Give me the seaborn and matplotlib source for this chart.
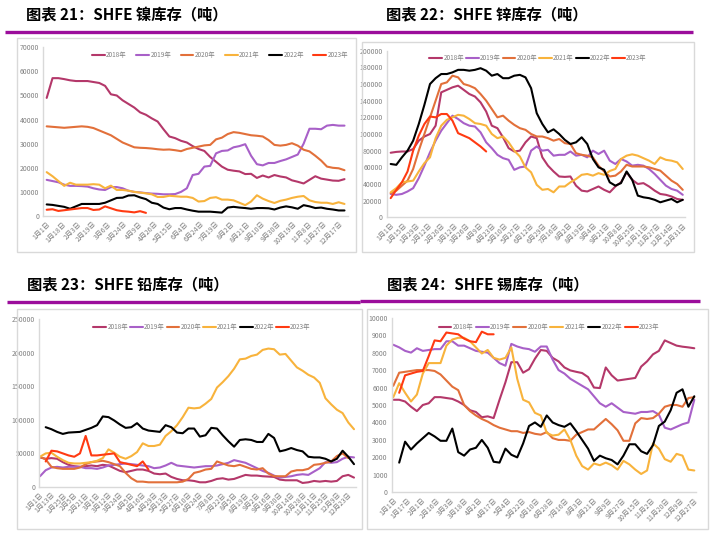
import numpy as np
import pandas as pd
import matplotlib.pyplot as plt
import seaborn as sns
from matplotlib.patches import Rectangle
from matplotlib.lines import Line2D

sns.set_style('white')
plt.rcParams['font.family'] = ['Noto Sans CJK SC', 'DejaVu Sans']

years = ['2018年', '2019年', '2020年', '2021年', '2022年', '2023年']
colors = ['#B4386A', '#A860C8', '#E2703A', '#F8B33C', '#000000', '#FF3A12']

# ---- 镍 (nickel), weekly
ni_labels = ['1月1日', '1月18日', '2月3日', '2月19日', '3月6日', '3月24日', '4月9日', '4月26日',
             '5月15日', '6月4日', '6月24日', '7月19日', '8月2日', '8月21日', '9月10日', '9月30日',
             '10月19日', '11月8日', '11月27日', '12月17日']
ni_2018 = [49000, 57200, 57200, 56800, 56300, 56000, 56000, 56000, 55600, 55200, 54000, 50500, 50000,
           48000, 46500, 45000, 43000, 42000, 40500, 39200, 36000, 33000, 32300, 31200, 30500, 29000,
           27800, 27000, 24500, 22500, 20500, 19200, 18800, 18500, 17400, 17500, 15800, 16800, 16000,
           17000, 16400, 16000, 14800, 14200, 13500, 15000, 16500, 15500, 15100, 14700, 14600, 15300]
ni_2019 = [15000, 14500, 14000, 13000, 12500, 12500, 12400, 12200, 11500, 11000, 10800, 12000, 12000,
           11500, 10500, 10000, 9800, 9500, 9300, 9200, 9000, 9000, 9100, 10000, 11500, 17000, 17500,
           20500, 20800, 26000, 27000, 27200, 28500, 29000, 29800, 25000, 21500, 21000, 22000, 22000,
           22800, 23500, 24500, 25500, 30000, 36200, 36200, 36000, 37500, 37800, 37500, 37500]
ni_2020 = [37200, 37000, 36800, 36600, 36800, 37000, 37200, 37000, 36500, 35500, 34500, 33500, 32000,
           30500, 29500, 28500, 28300, 28200, 28000, 27700, 27500, 27600, 27300, 26900, 27800, 28300,
           28800, 29300, 29500, 31800, 32500, 34000, 34800, 34500, 34000, 33500, 33300, 33000, 31500,
           29500, 29200, 29500, 30200, 29200, 27500, 26800, 25000, 23000, 20500, 20000, 19800, 19000]
ni_2021 = [18200, 16500, 14500, 12500, 13800, 13000, 13000, 13000, 13200, 13000, 11500, 12600, 10800,
           10800, 10500, 10000, 9700, 9400, 9000, 7900, 7900, 8400, 8200, 8000, 8000, 7500, 6000, 6200,
           7500, 7800, 6800, 6800, 6500, 5500, 4500, 6000, 8600, 7200, 6200, 5400, 6300, 6800, 7500,
           8000, 8300, 6500, 5800, 5500, 5500, 5000, 5700, 5000]
ni_2022 = [4800, 4600, 4200, 3800, 3000, 4000, 5000, 5000, 5000, 5000, 5500, 6500, 7500, 7600, 8500,
           8600, 7700, 7000, 5500, 5000, 3500, 2800, 3300, 3300, 2700, 2200, 1800, 1800, 1800, 1600,
           1400, 3500, 3800, 3500, 3300, 3000, 3300, 3300, 3200, 2700, 3500, 4000, 3600, 3000, 4500,
           4000, 3300, 3500, 3000, 2700, 2300, 2300]
ni_2023 = [2600, 2800, 2100, 2400, 2700, 3000, 3300, 3300, 2500, 2700, 4000, 3200, 2400, 2000, 1800,
           1500, 2000, 1300]

# ---- 锌 (zinc)
zn_labels = ['1月1日', '1月15日', '1月29日', '2月12日', '2月26日', '3月12日', '3月26日', '4月9日',
             '4月23日', '5月10日', '5月27日', '6月12日', '6月29日', '7月16日', '8月2日', '8月19日',
             '9月4日', '9月21日', '10月8日', '10月25日', '11月11日', '11月27日', '12月14日', '12月31日']
zn_2018 = [77500, 78500, 79000, 79000, 82000, 92000, 97000, 100000, 110000, 150000, 153000, 156000,
           158000, 153000, 148000, 145000, 138000, 127000, 110000, 107000, 96000, 83000, 79000, 80000,
           90000, 97000, 95000, 72000, 62000, 55000, 49000, 48500, 49000, 38000, 32000, 31000, 34000,
           37000, 33000, 30000, 37000, 42000, 54000, 45000, 40000, 41000, 37000, 32000, 28000, 27000,
           25000, 22000, 21000]
zn_2019 = [28000, 27000, 28000, 31000, 35000, 47000, 62000, 78000, 92000, 104000, 113000, 122000,
           118000, 113000, 110000, 109000, 102000, 90000, 83000, 75000, 71000, 69000, 57000, 60000,
           61000, 80000, 85000, 80000, 81000, 74000, 75000, 75000, 79000, 74000, 75000, 72000, 80000,
           76000, 80000, 68000, 64000, 70000, 67000, 62000, 63000, 62000, 58000, 52000, 45000, 38000,
           34000, 32000, 27000]
zn_2020 = [29000, 32000, 38000, 44000, 58000, 80000, 100000, 120000, 140000, 160000, 162000, 170000,
           168000, 160000, 158000, 155000, 148000, 140000, 130000, 120000, 122000, 116000, 111000,
           107000, 105000, 100000, 97000, 97000, 95000, 92000, 94000, 89000, 88000, 77000, 75000,
           74000, 72000, 62000, 55000, 49000, 50000, 55000, 63000, 61000, 61000, 61000, 60000, 58000,
           56000, 50000, 44000, 40000, 33000]
zn_2021 = [30000, 35000, 42000, 43000, 44000, 55000, 65000, 72000, 95000, 110000, 117000, 120000,
           123000, 122000, 118000, 113000, 112000, 110000, 100000, 95000, 97000, 90000, 80000, 73000,
           60000, 54000, 39000, 33000, 34000, 30000, 37000, 37000, 42000, 46000, 51000, 52000, 50000,
           53000, 51000, 55600, 58000, 70000, 74000, 75600, 74000, 71000, 68000, 64000, 72000, 69000,
           68000, 66000, 58000]
zn_2022 = [64000, 63000, 72000, 80000, 92000, 112000, 135000, 160000, 167000, 172000, 172000, 174000,
           177000, 177000, 176000, 177000, 179000, 176000, 170000, 172000, 167000, 167000, 170000,
           171000, 168000, 155000, 125000, 112000, 102000, 105600, 100000, 93000, 88000, 90000, 96000,
           88000, 70000, 60000, 57000, 42000, 38000, 41000, 55000, 45000, 26000, 24000, 23000, 21000,
           18000, 20000, 22000, 18000, 21000]
zn_2023 = [23000, 33000, 42000, 55000, 80000, 98000, 112000, 121000, 120000, 124000, 124000, 116000,
           101000, 98000, 95000, 90000, 85000, 79000]

# ---- 铅 (lead)
pb_labels = ['1月1日', '1月13日', '1月25日', '2月5日', '2月21日', '3月1日', '3月12日', '3月24日',
             '4月5日', '4月16日', '4月29日', '5月13日', '5月27日', '6月10日', '6月24日', '7月8日',
             '7月22日', '8月5日', '8月19日', '9月2日', '9月16日', '9月30日', '10月14日', '10月28日',
             '11月11日', '11月25日', '12月9日', '12月23日']
pb_2018 = [44000, 42000, 43000, 42000, 37000, 33000, 31000, 30000, 31000, 32000, 31000, 33000, 32000,
           28000, 24000, 22000, 24000, 26000, 26000, 24000, 20000, 19000, 20000, 15000, 12000, 10000,
           10000, 9000, 7000, 7000, 9000, 12000, 13000, 11000, 12000, 15000, 18000, 17000, 17000, 16000,
           15500, 15000, 11000, 10000, 10000, 10000, 6000, 7000, 9000, 8000, 9000, 8000, 9000, 16000,
           18000, 14000]
pb_2019 = [16000, 25000, 29000, 30000, 29000, 30000, 30000, 30000, 28000, 28000, 27000, 29000, 32000,
           33000, 34000, 35000, 34000, 33000, 32000, 31000, 28000, 29000, 32000, 36000, 32000, 31000,
           30000, 29000, 30000, 31000, 31000, 32000, 34000, 36000, 40000, 38000, 36000, 32000, 28000,
           24000, 21000, 17000, 14000, 15000, 16000, 18000, 19000, 18000, 23000, 28000, 37000, 36000,
           37000, 42000, 45000, 44000]
pb_2020 = [45000, 41000, 30000, 28000, 27000, 27000, 27000, 29000, 34000, 37000, 38000, 39000, 37000,
           34000, 31000, 21000, 13000, 8000, 8000, 7000, 7000, 7000, 7000, 7000, 7000, 8000, 12000,
           21000, 23000, 26000, 27000, 38000, 35000, 32000, 31000, 33000, 30000, 27000, 26000, 28000,
           20000, 16000, 16000, 16000, 23000, 25000, 25000, 27000, 33000, 34000, 36000, 38000, 46000,
           50000, 43000]
pb_2021 = [45000, 50000, 51000, 45000, 40000, 36000, 35000, 35000, 36000, 37000, 39000, 43000, 56000,
           51000, 45000, 42000, 46000, 52000, 65000, 61000, 61000, 63000, 76000, 83000, 92000, 104000,
           118000, 117000, 118000, 124000, 131000, 148000, 156000, 165000, 176000, 190000, 191000,
           195000, 197000, 204000, 206000, 205000, 197000, 198000, 188000, 178000, 173000, 167000,
           163000, 155000, 132000, 123000, 115000, 110000, 96000, 86000]
pb_2022 = [np.nan, 89000, 86000, 82000, 79000, 81000, 81500, 82000, 85000, 88000, 92000, 105000, 104000,
           99000, 93000, 88000, 89000, 95000, 87000, 84000, 83000, 82000, 92000, 89000, 81000, 80000,
           87000, 87000, 75000, 77000, 88000, 87000, 77000, 68000, 60000, 70000, 71000, 70000, 67000,
           67000, 79000, 73000, 53000, 55000, 58000, 55000, 53000, 45000, 44000, 44000, 42000, 38000,
           42000, 54000, 45000, 34000]
pb_2023 = [np.nan, 38000, 54000, 53000, 50000, 47000, 45000, 50000, 76000, 47000, 47000, 48000, 49000,
           50000, 37000, 35000, 33000, 31000, 38000, 26000]

# ---- 锡 (tin)
sn_labels = ['1月1日', '1月17日', '2月1日', '2月16日', '3月3日', '3月18日', '4月2日', '4月17日',
             '5月4日', '5月22日', '6月10日', '6月28日', '7月16日', '8月3日', '8月21日', '9月9日',
             '9月27日', '10月15日', '11月2日', '11月20日', '12月9日', '12月27日']
sn_2018 = [5300, 5300, 5200, 4900, 4650, 5000, 5100, 5450, 5450, 5400, 5350, 5200, 5000, 4700, 4600,
           4300, 4350, 4250, 5300, 6300, 7450, 7450, 6850, 7050, 7650, 8150, 8100, 7700, 7500, 7150,
           6980, 6900, 6830, 6600, 6000, 5970, 7150, 6700, 6400, 6450, 6500, 6550, 7200, 7500, 7900,
           8100, 8700, 8550, 8400, 8340, 8300, 8250]
sn_2019 = [8450, 8300, 8100, 8000, 8250, 8100, 8150, 8200, 8200, 8650, 8650, 8400, 8400, 8250, 8100,
           8050, 8000, 7700, 7400, 7250, 8500, 8350, 8250, 8200, 8050, 8350, 8350, 7600, 7000, 6800,
           6500, 6300, 6100, 5900, 5500, 5100, 4900, 5100, 4850, 4600, 4550, 4500, 4600, 4600, 4650,
           4450, 3700, 3600, 3750, 3900, 4000, 5300]
sn_2020 = [6100, 6850, 6900, 6950, 7000, 7000, 7000, 6950, 6750, 6400, 6050, 5850, 5000, 4650, 4400,
           4200, 4050, 3850, 3700, 3600, 3500, 3500, 3400, 3450, 3350, 3300, 3450, 3100, 3000, 3000,
           2950, 3300, 3450, 3600, 3600, 3900, 4200, 3900, 3550, 2950, 2950, 3950, 4250, 4200, 4250,
           4500, 4900, 5000, 5000, 4900, 5400, 5450]
sn_2021 = [5450, 6250, 5700, 5200, 5600, 6800, 7400, 7400, 7400, 8400, 8750, 8850, 8850, 8650, 8300,
           7950, 8150, 7700, 7600, 7700, 8300, 6500, 5300, 5150, 4550, 4400, 3400, 3250, 3300, 3600,
           3000, 2100, 1500, 1300, 1650, 1550, 1700, 1550, 1300, 1800, 1600, 1300, 1050, 1250, 2800,
           2500, 1900, 1750, 2200, 2100, 1300, 1250]
sn_2022 = [np.nan, 1700, 2900, 2450, 2800, 3100, 3400, 3200, 2950, 2950, 3650, 2300, 2100, 2450, 2550,
           3000, 2550, 1750, 1700, 2500, 2150, 2000, 2800, 3800, 4000, 3750, 4400, 4000, 3850, 3750,
           3950, 3500, 3000, 2500, 1800, 2100, 1950, 1850, 1600, 2100, 2750, 2750, 2350, 2200, 2700,
           3800, 4050, 4700, 5700, 5900, 4900, 5500]
sn_2023 = [np.nan, 5700, 6700, 6800, 6900, 6950, 7800, 8700, 8650, 9150, 9100, 9050, 8800, 8650, 8600,
           9200, 9050, 9050]

W, H = 710, 533
fig = plt.figure(figsize=(W / 100, H / 100), dpi=100)
purple = '#9B0D9B'
frame = '#D9D9D9'
tick_col = '#808080'


def fx(x):
    return x / W


def fy(y):
    return 1 - y / H


def add_frame(x0, y0, x1, y1):
    fig.add_artist(Rectangle((fx(x0), fy(y1)), fx(x1 - x0), (y1 - y0) / H,
                             transform=fig.transFigure, fill=False, edgecolor=frame, lw=1.0))


def add_rule(x0, x1, y):
    fig.add_artist(Line2D([fx(x0), fx(x1)], [fy(y), fy(y)], transform=fig.transFigure,
                          color=purple, lw=2.4, solid_capstyle='butt'))


def panel(box, xlim, series, labels, lab_end, ymax, ystep, leg_xy, colsp):
    x0, y0, x1, y1 = box
    ax = fig.add_axes([fx(x0), fy(y1), fx(x1 - x0), (y1 - y0) / H])
    rows = []
    for yr, vals in zip(years, series):
        for i, v in enumerate(vals):
            rows.append((i, v, yr))
    df = pd.DataFrame(rows, columns=['week', 'value', 'year']).dropna()
    sns.lineplot(data=df, x='week', y='value', hue='year', hue_order=years,
                 palette=dict(zip(years, colors)), linewidth=1.5, ax=ax)
    ax.set_xlim(*xlim)
    ax.set_ylim(0, ymax)
    ax.set_yticks(np.arange(0, ymax + 1, ystep))
    ax.set_yticklabels([str(int(t)) for t in np.arange(0, ymax + 1, ystep)])
    ax.set_xticks(np.linspace(0, lab_end, len(labels)))
    ax.set_xticklabels(labels, rotation=45, ha='right', rotation_mode='anchor')
    ax.tick_params(axis='y', labelsize=5, colors=tick_col, length=0, pad=3)
    ax.tick_params(axis='x', labelsize=5, colors=tick_col, length=0, pad=3)
    ax.set_xlabel('')
    ax.set_ylabel('')
    for s in ['top', 'right']:
        ax.spines[s].set_visible(False)
    for s in ['left', 'bottom']:
        ax.spines[s].set_color(frame)
        ax.spines[s].set_linewidth(1.0)
    ax.patch.set_alpha(0)
    h, l = ax.get_legend_handles_labels()
    ax.legend(h, l, ncol=6, loc='center', bbox_to_anchor=(fx(leg_xy[0]), fy(leg_xy[1])),
              bbox_transform=fig.transFigure, frameon=False, fontsize=4.6, handlelength=2.0,
              handletextpad=0.2, columnspacing=colsp, labelcolor=tick_col)
    return ax


# frames and rules
add_frame(16.5, 37.5, 355.5, 252)
add_frame(361.5, 41.5, 694, 252)
add_frame(16.5, 309, 361.5, 528.5)
add_frame(367, 309, 708, 528.5)
add_rule(5, 693, 31.5)
add_rule(7, 360, 301.5)
add_rule(360, 700, 300.5)

tfont = dict(fontsize=11, fontweight='bold', va='center', ha='left', color='black')
fig.text(fx(26), fy(14), '图表 21：SHFE 镍库存（吨）', **tfont)
fig.text(fx(386), fy(14), '图表 22：SHFE 锌库存（吨）', **tfont)
fig.text(fx(27), fy(284.5), '图表 23：SHFE 铅库存（吨）', **tfont)
fig.text(fx(387), fy(284), '图表 24：SHFE 锡库存（吨）', **tfont)

panel((43.3, 47.3, 348, 216), (-0.58, 51.6),
      [ni_2018, ni_2019, ni_2020, ni_2021, ni_2022, ni_2023], ni_labels, 50, 70000, 10000, (220, 55), 1.5)
panel((386.7, 50.7, 685, 217.3), (-0.71, 52.4),
      [zn_2018, zn_2019, zn_2020, zn_2021, zn_2022, zn_2023], zn_labels, 52, 200000, 20000, (538, 58), 0.3)
panel((39.3, 319, 356, 487), (-0.12, 55.35),
      [pb_2018, pb_2019, pb_2020, pb_2021, pb_2022, pb_2023], pb_labels, 54, 250000, 50000, (202, 327), 0.3)
panel((391.7, 317.7, 696, 492.3), (-0.27, 51.29),
      [sn_2018, sn_2019, sn_2020, sn_2021, sn_2022, sn_2023], sn_labels, 51, 10000, 1000, (549, 327), 0.4)

fig.savefig('out.png', dpi=100)
